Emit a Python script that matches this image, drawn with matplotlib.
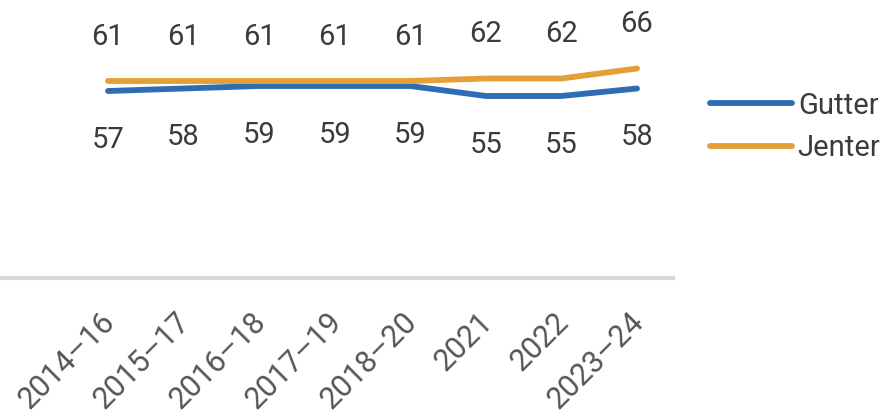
import matplotlib
matplotlib.use("Agg")
import matplotlib.pyplot as plt
import matplotlib.transforms as mtransforms
from matplotlib.lines import Line2D

categories = ["2014–16", "2015–17", "2016–18", "2017–19", "2018–20", "2021", "2022", "2023–24"]
gutter = [57, 58, 59, 59, 59, 55, 55, 58]
jenter = [61, 61, 61, 61, 61, 62, 62, 66]
series_names = ["Gutter", "Jenter"]

blue = "#2E6DB4"
orange = "#E2A037"
txt = "#3b3b3b"

fig = plt.figure(figsize=(8.92, 4.13), dpi=100)
W, H = 892, 413
ax = fig.add_axes([0, (H - 278) / H, 673 / W, 278 / H])

x = list(range(len(categories)))
ax.plot(x, gutter, color=blue, lw=4.2, solid_capstyle="round", zorder=3)
ax.plot(x, jenter, color=orange, lw=4.2, solid_capstyle="round", zorder=3)

for xi, g, j in zip(x, gutter, jenter):
    ax.annotate(str(j), (xi, j), xytext=(0, 32), textcoords="offset points",
                ha="center", va="center", fontsize=21, color=txt, family="Roboto")
    ax.annotate(str(g), (xi, g), xytext=(0, -35), textcoords="offset points",
                ha="center", va="center", fontsize=21, color=txt, family="Roboto")

# pixel mapping: value 57 -> y=91 px from top, 2.5 px per unit
ppu = 2.5
ymin = 57 - (278 - 91) / ppu
ymax = 57 + 91 / ppu
ax.set_ylim(ymin, ymax)
x0 = 108
step = (637 - 108) / 7
ax.set_xlim(-x0 / step, (673 - x0) / step)

for s in ["top", "right", "left"]:
    ax.spines[s].set_visible(False)
ax.spines["bottom"].set_color("#d9d9d9")
ax.spines["bottom"].set_linewidth(3)
ax.set_yticks([])
ax.set_xticks(x)
ax.set_xticklabels(categories, rotation=45, ha="right", rotation_mode="anchor",
                   fontsize=22, color="#555555", family="Roboto")
ax.tick_params(axis="x", length=0, pad=21)
offset = mtransforms.ScaledTranslation(-8 / 100, 0, fig.dpi_scale_trans)
for lab in ax.get_xticklabels():
    lab.set_transform(lab.get_transform() + offset)

handles = [Line2D([0], [0], color=blue, lw=4.2, solid_capstyle="round"),
           Line2D([0], [0], color=orange, lw=4.2, solid_capstyle="round")]
fig.legend(handles, series_names, loc="center left", bbox_to_anchor=(684 / W, 1 - 127 / H),
           frameon=False, handlelength=2.8, handletextpad=0.2,
           labelspacing=0.5, labelcolor=txt, prop={"family": "Roboto", "size": 21})

fig.savefig("out.png", dpi=100)
